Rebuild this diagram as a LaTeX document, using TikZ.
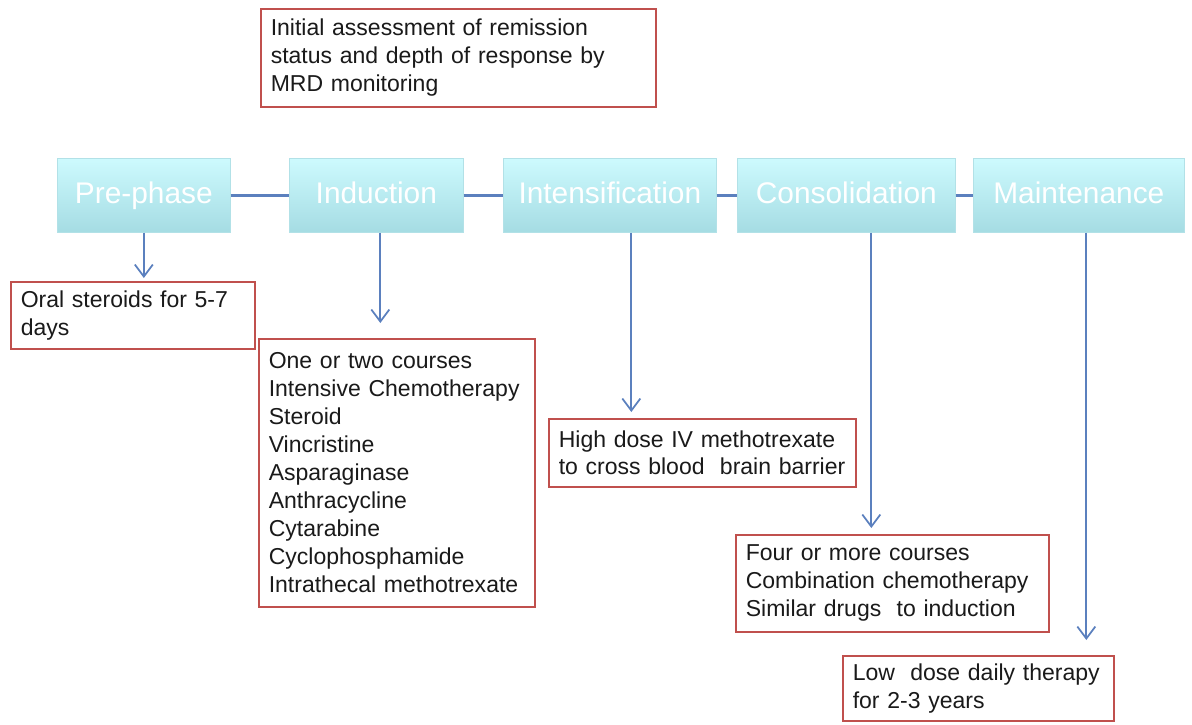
\documentclass[tikz,border=0pt]{standalone}
\usepackage{fontspec}
\setmainfont{Liberation Sans}
\usetikzlibrary{arrows.meta,positioning}
\hyphenpenalty=10000
\definecolor{ink}{HTML}{1A1A1A}
\definecolor{rim}{HTML}{C0504D}
\definecolor{wire}{HTML}{5B80BE}
\definecolor{aquatop}{HTML}{CDFAFE}
\definecolor{aquabot}{HTML}{A5DCE3}
\tikzset{
  >={Straight Barb[length=2.4mm,width=3.6mm]},
  phase/.style={top color=aquatop, bottom color=aquabot, draw=aquabot!85!white, anchor=north west,
    minimum height=1.48cm, inner sep=0pt, text height=12.5pt, text depth=3.5pt,
    text=white, font=\fontsize{17}{20}\selectfont},
  note/.style={draw=rim, line width=.9pt, fill=white, anchor=north west, align=left, text=ink,
    inner xsep=.2cm, inner ysep=0pt, font=\fontsize{13.1}{15.9}\selectfont},
  link/.style={draw=wire, line width=1.4pt},
  drop/.style={->, draw=wire, line width=1pt}
}

\begin{document}
\begin{tikzpicture}[x=0.02cm,y=-0.02cm]
  \useasboundingbox (0,0) rectangle (1192,724);

  % phases
  \node[phase,minimum width=3.46cm] (pre) at (57,158) {Pre-phase};
  \node[phase,minimum width=3.48cm] (ind) at (289,158) {Induction};
  \node[phase,minimum width=4.26cm] (int) at (503,158) {Intensification};
  \node[phase,minimum width=4.36cm] (con) at (737,158) {Consolidation};
  \node[phase,minimum width=4.22cm] (mai) at (973,158) {Maintenance};
  \draw[link] (pre) -- (ind);
  \draw[link] (ind) -- (int);
  \draw[link] (int) -- (con);
  \draw[link] (con) -- (mai);

  % notes
  \node[note,text width=7.5cm,minimum height=1.96cm] (assess) at (260,8)
    {Initial assessment of remission\\status and depth of response by\\MRD monitoring};
  \node[note,text width=4.48cm,minimum height=1.34cm] (oral) at (10,281)
    {Oral steroids for 5-7\\days};
  \node[note,text width=5.12cm,minimum height=5.36cm] (indu) at (258,338)
    {One or two courses\\Intensive Chemotherapy\\Steroid\\Vincristine\\Asparaginase\\
     Anthracycline\\Cytarabine\\Cyclophosphamide\\Intrathecal methotrexate};
  \node[note,text width=5.74cm,minimum height=1.36cm] (hidose) at (548,418)
    {High dose IV methotrexate\\to cross blood\ \ brain barrier};
  \node[note,text width=5.86cm,minimum height=1.94cm] (four) at (735,534)
    {Four or more courses\\Combination chemotherapy\\Similar drugs\ \ to induction};
  \node[note,text width=5.02cm,minimum height=1.3cm] (lowdose) at (842,655)
    {Low\ \ dose daily therapy\\for 2-3 years};

  % drops
  \coordinate (d1) at (pre.south);
  \coordinate (d2) at ([xshift=.08cm]ind.south);
  \coordinate (d3) at ([xshift=.43cm]int.south);
  \coordinate (d4) at ([xshift=.5cm]con.south);
  \coordinate (d5) at ([xshift=.15cm]mai.south);
  \draw[drop,shorten >=.06cm] (d1) -- (d1 |- oral.north);
  \draw[drop,shorten >=.3cm] (d2) -- (d2 |- indu.north);
  \draw[drop,shorten >=.12cm] (d3) -- (d3 |- hidose.north);
  \draw[drop,shorten >=.12cm] (d4) -- (d4 |- four.north);
  \draw[drop,shorten >=.3cm] (d5) -- (d5 |- lowdose.north);
\end{tikzpicture}
\end{document}
